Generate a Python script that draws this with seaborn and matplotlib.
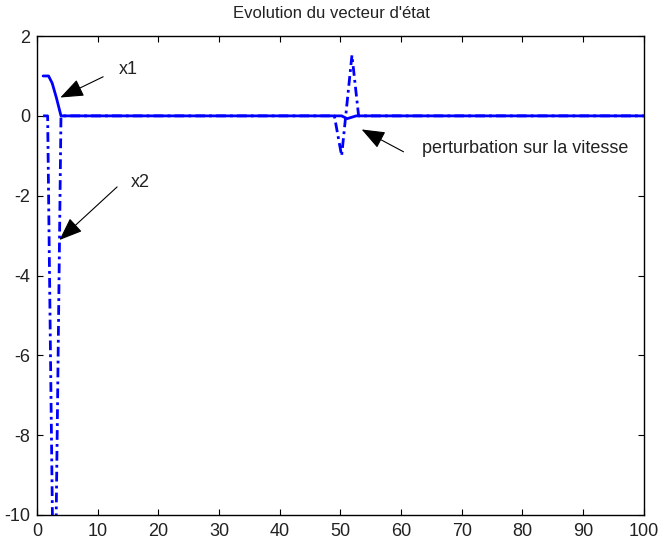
# Evolution du vecteur d'etat - state vector response with a speed perturbation
import numpy as np
import pandas as pd
import matplotlib
matplotlib.use("Agg")
import matplotlib.pyplot as plt
import seaborn as sns

# ---- data ----
t_x1 = [1, 1.9, 2.5, 3.2, 3.95, 50.2, 51.1, 52.6, 100]
x1 = [1, 1, 0.82, 0.45, 0, 0, -0.07, 0, 0]

t_x2 = [1, 1.75, 2.85, 3.95, 49, 50.2, 51.9, 53, 100]
x2 = [0, 0, -14, 0, 0, -1, 1.52, 0, 0]

xticks = list(range(0, 101, 10))
yticks = list(range(-10, 3, 2))

title = "Evolution du vecteur d'état"
lbl_x1 = "x1"
lbl_x2 = "x2"
lbl_pert = "perturbation sur la vitesse"

# ---- style ----
sns.set_style("white")
plt.rcParams["font.family"] = ["Liberation Sans", "DejaVu Sans"]
plt.rcParams["text.color"] = "#222222"
plt.rcParams["axes.unicode_minus"] = False

fig = plt.figure(figsize=(6.61, 5.43), dpi=100)
ax = fig.add_axes([0.056, 0.0516, 0.918, 0.882])

df1 = pd.DataFrame({"t": t_x1, "v": x1})
df2 = pd.DataFrame({"t": t_x2, "v": x2})

sns.lineplot(data=df1, x="t", y="v", ax=ax, color="blue", lw=2,
             estimator=None, sort=False)
sns.lineplot(data=df2, x="t", y="v", ax=ax, color="blue", lw=2,
             estimator=None, sort=False, linestyle=(0, (3.5, 1.5, 1, 1.5)))

ax.set_xlim(0, 100)
ax.set_ylim(-10, 2)
ax.set_xticks(xticks)
ax.set_yticks(yticks)
ax.set_xlabel("")
ax.set_ylabel("")
ax.tick_params(direction="in", length=4.5, width=0.8, colors="black",
               labelcolor="#222222", labelsize=13, top=True, right=True,
               bottom=True, left=True)
ax.tick_params(axis="x", pad=6)
ax.tick_params(axis="y", pad=5)
for s in ax.spines.values():
    s.set_color("black")
    s.set_linewidth(1.0)

ax.set_title(title, fontsize=12, pad=13, x=0.485)

# ---- annotations ----
arrow = dict(arrowstyle="-|>,head_length=0.9,head_width=0.35", color="black",
             lw=0.8, shrinkA=0, shrinkB=0, mutation_scale=16)
ax.annotate("", xy=(3.84, 0.46), xytext=(10.9, 0.98), arrowprops=arrow)
ax.text(13.4, 1.15, lbl_x1, fontsize=13, va="center", ha="left")

ax.annotate("", xy=(3.7, -3.11), xytext=(13.2, -1.78), arrowprops=arrow)
ax.text(15.4, -1.68, lbl_x2, fontsize=13, va="center", ha="left")

ax.annotate("", xy=(53.5, -0.34), xytext=(60.4, -0.9), arrowprops=arrow)
ax.text(63.4, -0.81, lbl_pert, fontsize=13, va="center", ha="left")

fig.savefig("out.png", dpi=100)
